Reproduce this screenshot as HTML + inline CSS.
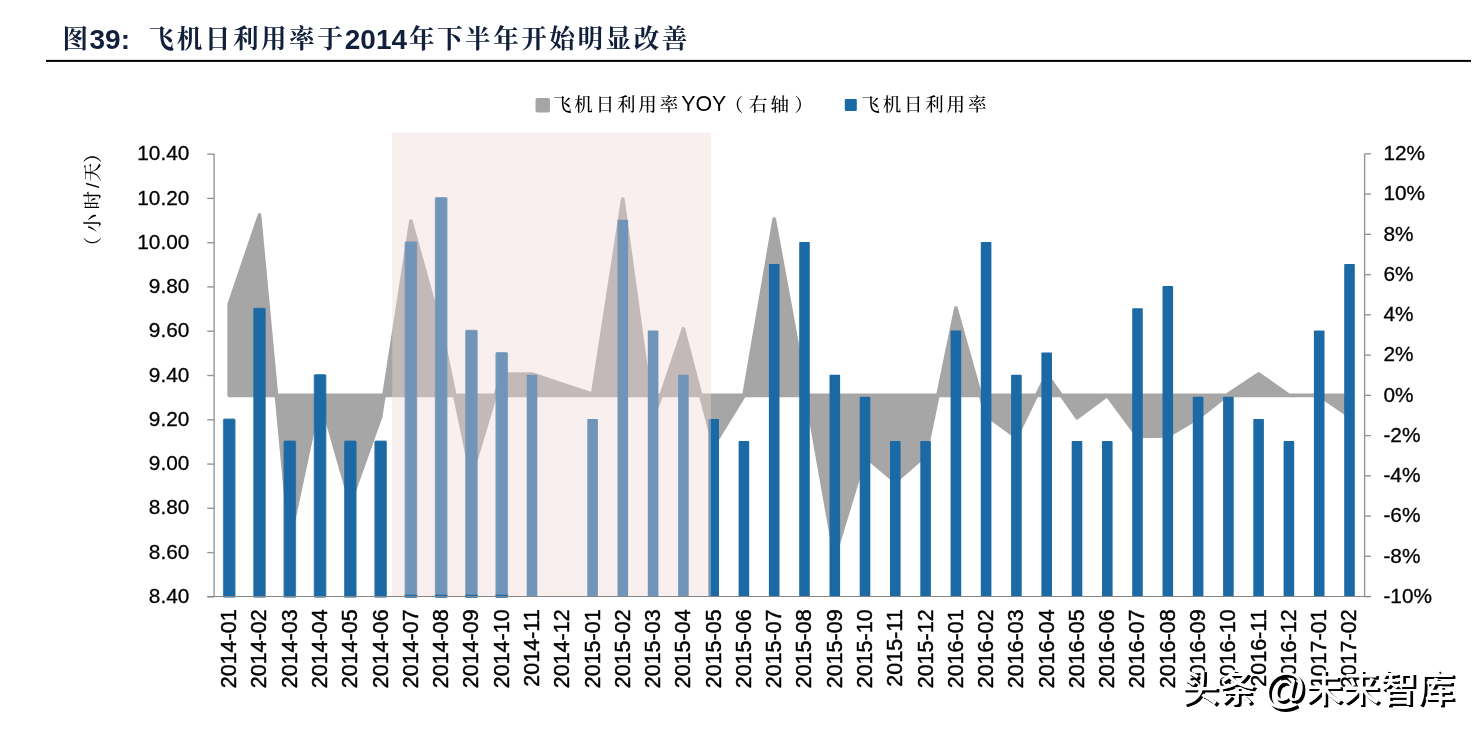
<!DOCTYPE html>
<html lang="zh-CN">
<head>
<meta charset="utf-8">
<title>图39: 飞机日利用率于2014年下半年开始明显改善</title>
<style>
html,body{margin:0;padding:0;background:#fff;}
body{width:1478px;height:731px;overflow:hidden;position:relative;}
svg{display:block;position:absolute;left:0;top:0;}
text{font-family:"Liberation Sans", "Noto Sans CJK SC", sans-serif;fill:#000;}
.k{font-family:"Liberation Sans", "Noto Serif CJK SC", serif;}
.ttl{font-weight:700;fill:#11203b;font-size:28px;}
.tk{font-weight:700;font-size:25.6px;letter-spacing:2.5px;}
.ax{font-size:20.8px;stroke:#000;stroke-width:0.3px;}
.xl{font-size:21.5px;stroke-width:0.45px;}
.lg{font-size:21.33px;}
.lk{font-weight:500;font-size:18.5px;letter-spacing:2.83px;}
.yt{font-size:18.5px;font-weight:500;}
.wm{font-family:"Liberation Sans","Noto Sans CJK SC",sans-serif;font-size:37.3px;font-weight:500;fill:#fff;text-shadow:2.1px 2.1px 0.4px #000,2.6px 2.6px 0.4px #000;}
</style>
</head>
<body>
<svg width="1478" height="731" viewBox="0 0 1478 731">
<rect x="0" y="0" width="1478" height="731" fill="#ffffff"/>
<text class="ttl" y="49.3"><tspan class="k tk" x="62.6" y="48.2">图</tspan><tspan x="89.5" y="49.3">39: </tspan><tspan class="k tk" x="148.6" y="48.2">飞机日利用率于</tspan><tspan x="344.8" y="49.3">2014</tspan><tspan class="k tk" x="408.9" y="48.2">年下半年开始明显改善</tspan></text>
<rect x="46" y="59.9" width="1425" height="2" fill="#000"/>
<rect x="535.5" y="98" width="14.5" height="14.5" rx="2" ry="2" fill="#a6a6a6"/>
<text class="lg" y="110.8"><tspan class="k lk" x="553.0" y="110.5">飞机日利用率</tspan><tspan x="681.3" y="110.8">YOY</tspan><tspan class="k lk" x="724.8 749 770.4 794.5" y="110.5">（右轴）</tspan></text>
<rect x="844.8" y="99.1" width="12" height="11.8" rx="0.8" ry="0.8" fill="#1b6aa5"/>
<text class="lg k lk" x="861.3" y="110.5">飞机日利用率</text>
<text class="k yt" transform="translate(98.7,0) rotate(-90)" x="-255.2 -232.2 -209.6 -188.1 -181.6 -162.7">（小时/天）</text>
<path d="M229.2,395.3 L229.2,304.0 L259.5,215.0 L289.8,538.0 L320.1,396.0 L350.3,502.0 L380.6,417.0 L410.9,221.0 L441.2,330.0 L471.4,475.0 L501.7,374.0 L532.0,374.0 L562.3,384.2 L592.6,394.3 L622.8,199.0 L653.1,419.0 L683.4,329.0 L713.7,445.0 L743.9,396.0 L774.2,219.0 L804.5,384.0 L834.8,555.0 L865.0,456.0 L895.3,481.5 L925.6,455.0 L955.9,308.0 L986.1,415.0 L1016.4,437.0 L1046.7,374.5 L1077.0,417.7 L1107.3,395.3 L1137.5,436.5 L1167.8,436.0 L1198.1,418.0 L1228.4,394.0 L1258.6,374.0 L1288.9,395.2 L1319.2,395.3 L1349.5,416.0 L1349.5,395.3 Z" fill="#a6a6a6" stroke="#a6a6a6" stroke-width="3.7" stroke-linejoin="round"/>
<g stroke="#969696" stroke-width="1.4" fill="none">
<path d="M214.1,153.8 V596.6"/>
<path d="M207.2,154.1 H214.1"/>
<path d="M207.2,198.4 H214.1"/>
<path d="M207.2,242.7 H214.1"/>
<path d="M207.2,286.9 H214.1"/>
<path d="M207.2,331.2 H214.1"/>
<path d="M207.2,375.5 H214.1"/>
<path d="M207.2,419.8 H214.1"/>
<path d="M207.2,464.1 H214.1"/>
<path d="M207.2,508.3 H214.1"/>
<path d="M207.2,552.6 H214.1"/>
<path d="M207.2,596.9 H214.1"/>
<path d="M1364.6,153.8 V596.6"/>
<path d="M1364.6,153.8 H1370.9"/>
<path d="M1364.6,194.1 H1370.9"/>
<path d="M1364.6,234.3 H1370.9"/>
<path d="M1364.6,274.6 H1370.9"/>
<path d="M1364.6,314.8 H1370.9"/>
<path d="M1364.6,355.1 H1370.9"/>
<path d="M1364.6,395.3 H1370.9"/>
<path d="M1364.6,435.6 H1370.9"/>
<path d="M1364.6,475.8 H1370.9"/>
<path d="M1364.6,516.1 H1370.9"/>
<path d="M1364.6,556.3 H1370.9"/>
<path d="M1364.6,596.6 H1370.9"/>
</g>
<defs><clipPath id="cb"><rect x="380" y="594.8" width="340" height="10"/></clipPath></defs>
<g fill="#1b6aa5">
<rect x="526.7" y="374.7" width="10.6" height="221.9" rx="0.8" ry="0.8"/>
<rect x="587.3" y="419.0" width="10.6" height="177.6" rx="0.8" ry="0.8"/>
<rect x="617.5" y="219.7" width="10.6" height="376.9" rx="0.8" ry="0.8"/>
<rect x="647.8" y="330.4" width="10.6" height="266.2" rx="0.8" ry="0.8"/>
<rect x="678.1" y="374.7" width="10.6" height="221.9" rx="0.8" ry="0.8"/>
<rect x="708.4" y="419.0" width="10.6" height="177.6" rx="0.8" ry="0.8"/>
<rect x="738.6" y="441.1" width="10.6" height="155.5" rx="0.8" ry="0.8"/>
<rect x="768.9" y="264.0" width="10.6" height="332.6" rx="0.8" ry="0.8"/>
<rect x="799.2" y="241.9" width="10.6" height="354.7" rx="0.8" ry="0.8"/>
<rect x="829.5" y="374.7" width="10.6" height="221.9" rx="0.8" ry="0.8"/>
<rect x="859.7" y="396.8" width="10.6" height="199.8" rx="0.8" ry="0.8"/>
<rect x="890.0" y="441.1" width="10.6" height="155.5" rx="0.8" ry="0.8"/>
<rect x="920.3" y="441.1" width="10.6" height="155.5" rx="0.8" ry="0.8"/>
<rect x="950.6" y="330.4" width="10.6" height="266.2" rx="0.8" ry="0.8"/>
<rect x="980.8" y="241.9" width="10.6" height="354.7" rx="0.8" ry="0.8"/>
<rect x="1011.1" y="374.7" width="10.6" height="221.9" rx="0.8" ry="0.8"/>
<rect x="1041.4" y="352.6" width="10.6" height="244.0" rx="0.8" ry="0.8"/>
<rect x="1071.7" y="441.1" width="10.6" height="155.5" rx="0.8" ry="0.8"/>
<rect x="1102.0" y="441.1" width="10.6" height="155.5" rx="0.8" ry="0.8"/>
<rect x="1132.2" y="308.3" width="10.6" height="288.3" rx="0.8" ry="0.8"/>
<rect x="1162.5" y="286.1" width="10.6" height="310.5" rx="0.8" ry="0.8"/>
<rect x="1192.8" y="396.8" width="10.6" height="199.8" rx="0.8" ry="0.8"/>
<rect x="1223.1" y="396.8" width="10.6" height="199.8" rx="0.8" ry="0.8"/>
<rect x="1253.3" y="419.0" width="10.6" height="177.6" rx="0.8" ry="0.8"/>
<rect x="1283.6" y="441.1" width="10.6" height="155.5" rx="0.8" ry="0.8"/>
<rect x="1313.9" y="330.4" width="10.6" height="266.2" rx="0.8" ry="0.8"/>
<rect x="1344.2" y="264.0" width="10.6" height="332.6" rx="0.8" ry="0.8"/>
</g>
<g fill="#1b6aa5" stroke="#1b6aa5" stroke-opacity="0.75" stroke-width="1.6" stroke-linejoin="round">
<rect x="223.69" y="419.2" width="11.1" height="177.8" rx="0.8" ry="0.8"/>
<rect x="253.96" y="308.5" width="11.1" height="288.5" rx="0.8" ry="0.8"/>
<rect x="284.24" y="441.3" width="11.1" height="155.7" rx="0.8" ry="0.8"/>
<rect x="314.52" y="374.9" width="11.1" height="222.1" rx="0.8" ry="0.8"/>
<rect x="344.79" y="441.3" width="11.1" height="155.7" rx="0.8" ry="0.8"/>
<rect x="375.07" y="441.3" width="11.1" height="155.7" rx="0.8" ry="0.8"/>
<rect x="405.35" y="242.1" width="11.1" height="354.9" rx="0.8" ry="0.8"/>
<rect x="435.62" y="197.8" width="11.1" height="399.2" rx="0.8" ry="0.8"/>
<rect x="465.90" y="330.6" width="11.1" height="266.4" rx="0.8" ry="0.8"/>
<rect x="496.18" y="352.8" width="11.1" height="244.2" rx="0.8" ry="0.8"/>
</g>
<rect x="392.2" y="132.9" width="318.8" height="463.1" fill="#f0d8d6" fill-opacity="0.40"/>
<g fill="#1b6aa5" stroke="#1b6aa5" stroke-opacity="0.75" stroke-width="1.6" stroke-linejoin="round" clip-path="url(#cb)">
<rect x="405.35" y="242.1" width="11.1" height="354.9" rx="0.8" ry="0.8"/>
<rect x="435.62" y="197.8" width="11.1" height="399.2" rx="0.8" ry="0.8"/>
<rect x="465.90" y="330.6" width="11.1" height="266.4" rx="0.8" ry="0.8"/>
<rect x="496.18" y="352.8" width="11.1" height="244.2" rx="0.8" ry="0.8"/>
</g>
<path d="M207.2,596.5 H1370.9" stroke="#868686" stroke-width="1.2" fill="none"/>
<g class="ax" text-anchor="end">
<text class="ax" x="189.3" y="160.2">10.40</text>
<text class="ax" x="189.3" y="204.5">10.20</text>
<text class="ax" x="189.3" y="248.8">10.00</text>
<text class="ax" x="189.3" y="293.0">9.80</text>
<text class="ax" x="189.3" y="337.3">9.60</text>
<text class="ax" x="189.3" y="381.6">9.40</text>
<text class="ax" x="189.3" y="425.9">9.20</text>
<text class="ax" x="189.3" y="470.2">9.00</text>
<text class="ax" x="189.3" y="514.4">8.80</text>
<text class="ax" x="189.3" y="558.7">8.60</text>
<text class="ax" x="189.3" y="603.0">8.40</text>
</g>
<g class="ax">
<text class="ax" x="1383.4" y="160.1">12%</text>
<text class="ax" x="1383.4" y="200.4">10%</text>
<text class="ax" x="1383.4" y="240.6">8%</text>
<text class="ax" x="1383.4" y="280.9">6%</text>
<text class="ax" x="1383.4" y="321.1">4%</text>
<text class="ax" x="1383.4" y="361.4">2%</text>
<text class="ax" x="1383.4" y="401.6">0%</text>
<text class="ax" x="1383.4" y="441.9">-2%</text>
<text class="ax" x="1383.4" y="482.1">-4%</text>
<text class="ax" x="1383.4" y="522.4">-6%</text>
<text class="ax" x="1383.4" y="562.6">-8%</text>
<text class="ax" x="1383.4" y="602.9">-10%</text>
</g>
<g class="ax" text-anchor="end">
<text class="ax xl" transform="translate(236.1,609.4) rotate(-90)">2014-01</text>
<text class="ax xl" transform="translate(266.4,609.4) rotate(-90)">2014-02</text>
<text class="ax xl" transform="translate(296.7,609.4) rotate(-90)">2014-03</text>
<text class="ax xl" transform="translate(327.0,609.4) rotate(-90)">2014-04</text>
<text class="ax xl" transform="translate(357.2,609.4) rotate(-90)">2014-05</text>
<text class="ax xl" transform="translate(387.5,609.4) rotate(-90)">2014-06</text>
<text class="ax xl" transform="translate(417.8,609.4) rotate(-90)">2014-07</text>
<text class="ax xl" transform="translate(448.1,609.4) rotate(-90)">2014-08</text>
<text class="ax xl" transform="translate(478.3,609.4) rotate(-90)">2014-09</text>
<text class="ax xl" transform="translate(508.6,609.4) rotate(-90)">2014-10</text>
<text class="ax xl" transform="translate(538.9,609.4) rotate(-90)">2014-11</text>
<text class="ax xl" transform="translate(569.2,609.4) rotate(-90)">2014-12</text>
<text class="ax xl" transform="translate(599.5,609.4) rotate(-90)">2015-01</text>
<text class="ax xl" transform="translate(629.7,609.4) rotate(-90)">2015-02</text>
<text class="ax xl" transform="translate(660.0,609.4) rotate(-90)">2015-03</text>
<text class="ax xl" transform="translate(690.3,609.4) rotate(-90)">2015-04</text>
<text class="ax xl" transform="translate(720.6,609.4) rotate(-90)">2015-05</text>
<text class="ax xl" transform="translate(750.8,609.4) rotate(-90)">2015-06</text>
<text class="ax xl" transform="translate(781.1,609.4) rotate(-90)">2015-07</text>
<text class="ax xl" transform="translate(811.4,609.4) rotate(-90)">2015-08</text>
<text class="ax xl" transform="translate(841.7,609.4) rotate(-90)">2015-09</text>
<text class="ax xl" transform="translate(871.9,609.4) rotate(-90)">2015-10</text>
<text class="ax xl" transform="translate(902.2,609.4) rotate(-90)">2015-11</text>
<text class="ax xl" transform="translate(932.5,609.4) rotate(-90)">2015-12</text>
<text class="ax xl" transform="translate(962.8,609.4) rotate(-90)">2016-01</text>
<text class="ax xl" transform="translate(993.0,609.4) rotate(-90)">2016-02</text>
<text class="ax xl" transform="translate(1023.3,609.4) rotate(-90)">2016-03</text>
<text class="ax xl" transform="translate(1053.6,609.4) rotate(-90)">2016-04</text>
<text class="ax xl" transform="translate(1083.9,609.4) rotate(-90)">2016-05</text>
<text class="ax xl" transform="translate(1114.2,609.4) rotate(-90)">2016-06</text>
<text class="ax xl" transform="translate(1144.4,609.4) rotate(-90)">2016-07</text>
<text class="ax xl" transform="translate(1174.7,609.4) rotate(-90)">2016-08</text>
<text class="ax xl" transform="translate(1205.0,609.4) rotate(-90)">2016-09</text>
<text class="ax xl" transform="translate(1235.3,609.4) rotate(-90)">2016-10</text>
<text class="ax xl" transform="translate(1265.5,609.4) rotate(-90)">2016-11</text>
<text class="ax xl" transform="translate(1295.8,609.4) rotate(-90)">2016-12</text>
<text class="ax xl" transform="translate(1326.1,609.4) rotate(-90)">2017-01</text>
<text class="ax xl" transform="translate(1356.4,609.4) rotate(-90)">2017-02</text>
</g>
<text class="wm" y="701.5"><tspan x="1181.3">头条 </tspan><tspan x="1262.8" y="703.2" font-size="43" font-weight="400">@</tspan><tspan x="1305.2" y="701.5">未来智库</tspan></text>
</svg>
</body>
</html>
